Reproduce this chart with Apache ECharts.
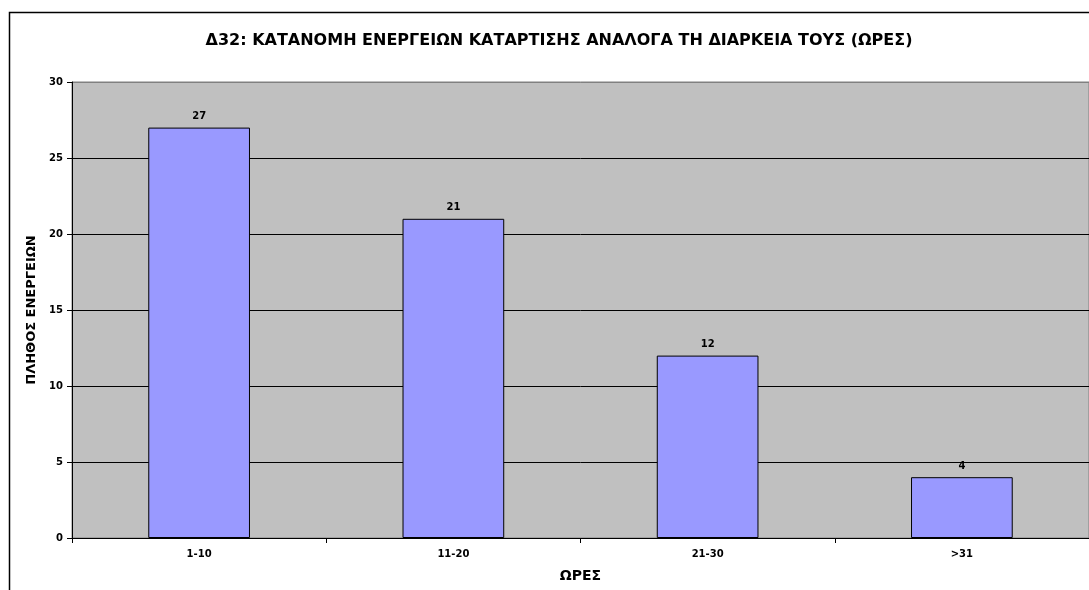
<!DOCTYPE html>
<html>
<head>
<meta charset="utf-8">
<script src="https://cdn.jsdelivr.net/npm/echarts@6/dist/echarts.min.js"></script>
<style>html,body{margin:0;padding:0;background:#fff;}#c{width:1089px;height:590px;}</style>
</head>
<body>
<div id="c"></div>
<script>
const titleText = 'Δ32: ΚΑΤΑΝΟΜΗ ΕΝΕΡΓΕΙΩΝ ΚΑΤΑΡΤΙΣΗΣ ΑΝΑΛΟΓΑ ΤΗ ΔΙΑΡΚΕΙΑ ΤΟΥΣ (ΩΡΕΣ)';
const categories = ['1-10', '11-20', '21-30', '>31'];
const values = [27, 21, 12, 4];
const xAxisName = 'ΩΡΕΣ';
const yAxisName = 'ΠΛΗΘΟΣ ΕΝΕΡΓΕΙΩΝ';

const chart = echarts.init(document.getElementById('c'), null, {renderer: 'canvas'});
const FONT = '"DejaVu Sans", Verdana, sans-serif';
chart.setOption({
  animation: false,
  backgroundColor: '#ffffff',
  graphic: [{
    type: 'rect', z: -10, silent: true,
    shape: {x: 9.5, y: 12.5, width: 1200, height: 700},
    style: {fill: 'none', stroke: '#000', lineWidth: 1.5}
  }],
  title: {
    text: titleText, left: 554, top: 28, textAlign: 'center',
    textStyle: {fontFamily: FONT, fontWeight: 'bold', fontSize: 16, color: '#000'}
  },
  grid: {
    left: 72, top: 82, width: 1020, height: 456,
    show: true, backgroundColor: '#C0C0C0', borderColor: '#808080', borderWidth: 1
  },
  xAxis: {
    type: 'category', data: categories,
    name: xAxisName, nameLocation: 'middle', nameGap: 31,
    nameTextStyle: {fontFamily: FONT, fontWeight: 'bold', fontSize: 14, color: '#000'},
    axisLine: {lineStyle: {color: '#000', width: 1}},
    axisTick: {show: true, length: 5, lineStyle: {color: '#000'}},
    axisLabel: {fontFamily: FONT, fontWeight: 'bold', fontSize: 10, color: '#000', margin: 11},
    splitLine: {show: false}
  },
  yAxis: {
    type: 'value', min: 0, max: 30, interval: 5,
    name: yAxisName, nameLocation: 'middle', nameGap: 34, nameRotate: 90,
    nameTextStyle: {fontFamily: FONT, fontWeight: 'bold', fontSize: 13, color: '#000'},
    axisLine: {show: true, lineStyle: {color: '#000', width: 1}},
    axisTick: {show: true, length: 5, lineStyle: {color: '#000'}},
    axisLabel: {fontFamily: FONT, fontWeight: 'bold', fontSize: 10, color: '#000', margin: 9},
    splitLine: {show: true, lineStyle: {color: ['#000','#000','#000','#000','#000','#000','#808080'], width: 1}}
  },
  series: [{
    type: 'bar', data: values, barCategoryGap: '60%',
    itemStyle: {color: '#9999FF', borderColor: '#000', borderWidth: 1},
    label: {show: true, position: 'top', distance: 6,
      fontFamily: FONT, fontWeight: 'bold', fontSize: 10, color: '#000'}
  }]
});
</script>
</body>
</html>
